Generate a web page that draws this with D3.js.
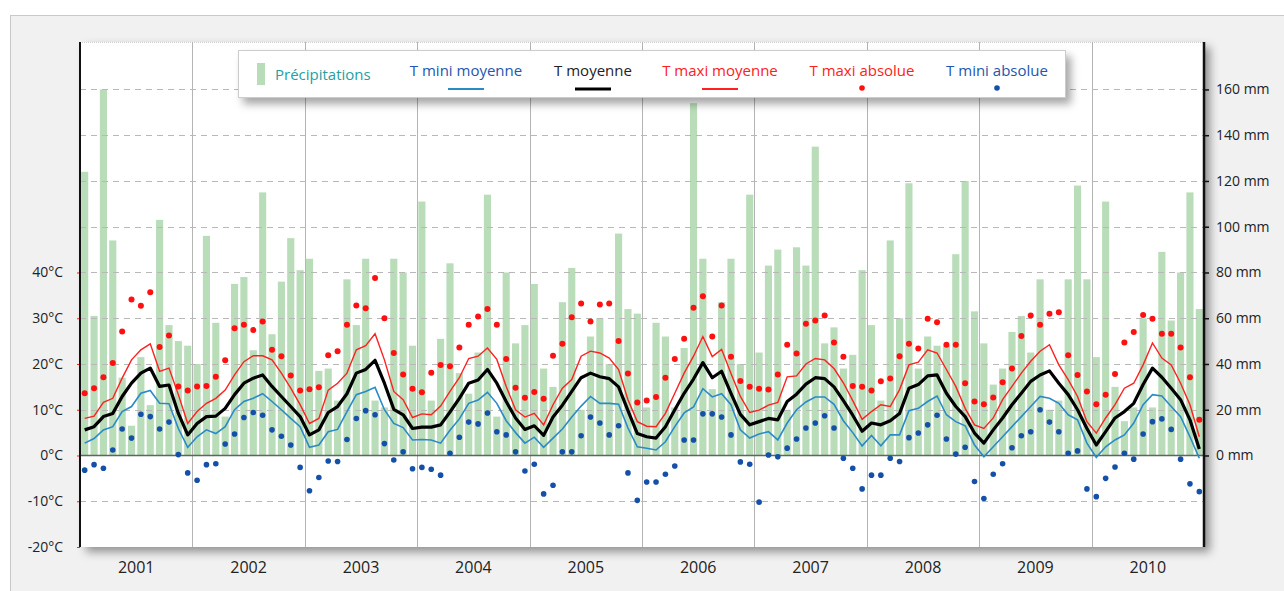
<!DOCTYPE html>
<html><head><meta charset="utf-8">
<script src="https://cdn.jsdelivr.net/npm/d3@7"></script>
<style>body{margin:0;background:#fff;} svg{display:block}</style>
</head><body><svg id="c" width="1284" height="591"></svg>
<script>
const years = ["2001","2002","2003","2004","2005","2006","2007","2008","2009","2010"];
const tempTicks = [-20,-10,0,10,20,30,40];
const precipTicks = [0,20,40,60,80,100,120,140,160];
const gridTemps = [-10,10,20,30,40,50,60,70,80];

const precipitation = [124,61,160,94,34,13,43,22,103,57,50,48,
 40,96,58,17,75,78,46,115,53,76,95,81,
 86,37,38,24,77,57,86,24,21,86,80,48,
 111,24,51,84,36,27,45,114,17,80,49,57,
 75,38,30,67,82,20,52,60,40,97,64,62,
 21,58,52,21,47,154,86,29,67,86,40,114,
 45,83,90,20,91,83,135,49,56,38,44,81,
 57,24,94,60,119,38,52,48,48,88,120,63,
 49,31,38,54,61,45,77,20,24,77,118,77,
 43,111,30,15,21,60,21,89,59,80,115,64];

const tMinMoy = [2.7,3.7,5.6,6.3,9.6,10.7,13.6,14.2,11.4,11.3,5.9,1.8,
 4.1,5.6,4.8,6.3,10.0,11.8,12.5,13.5,11.8,10.0,8.1,6.3,
 1.8,2.3,5.2,5.7,9.6,13.3,14.0,14.9,10.0,7.0,6.1,3.4,
 3.5,3.4,2.7,5.5,8.0,11.4,12.1,13.8,11.4,7.6,5.0,2.7,
 4.0,1.8,3.8,5.8,8.4,10.8,12.9,11.4,11.4,11.2,6.0,1.9,
 1.6,1.2,3.0,6.3,9.3,10.6,14.6,12.8,13.5,11.1,5.6,3.8,
 4.7,5.2,3.4,7.1,10.0,11.7,12.8,12.8,11.2,7.6,5.0,2.1,
 4.4,2.1,4.5,4.5,9.8,10.3,11.8,13.0,8.9,7.4,6.5,2.3,
 -0.3,1.9,4.1,6.3,8.5,10.7,12.9,12.5,11.4,8.9,7.8,2.7,
 -0.4,1.9,3.4,4.5,7.1,11.1,13.3,13.0,10.7,8.5,4.1,-0.6];

const tMoy = [5.6,6.3,8.5,9.2,12.9,15.8,18.0,19.1,15.1,15.4,9.2,4.5,
 7.0,8.5,8.6,10.3,13.3,15.8,16.9,17.6,15.1,12.9,10.7,8.5,
 4.5,5.6,9.4,10.7,13.5,18.0,18.8,20.8,15.8,10.1,8.9,5.9,
 6.2,6.2,6.7,9.5,12.5,15.8,16.5,18.8,15.8,11.8,8.2,5.7,
 6.5,4.4,8.4,11.0,14.0,17.0,18.0,17.2,16.8,15.0,9.8,4.8,
 4.1,3.8,6.3,10.0,13.6,16.7,20.3,17.0,18.4,13.6,9.0,6.7,
 7.4,8.1,7.8,11.8,13.4,15.6,17.0,16.8,15.0,12.0,8.8,5.3,
 7.1,6.7,7.6,9.2,14.7,15.5,17.4,17.6,13.6,10.7,8.5,4.9,
 2.7,5.6,8.2,11.1,13.6,16.2,17.6,18.5,15.8,13.3,10.0,5.9,
 2.3,5.2,8.2,9.6,11.4,15.5,19.1,17.1,14.7,12.2,7.8,1.4];

const tMaxMoy = [8.1,8.6,11.6,12.5,16.9,20.9,23.1,24.4,18.4,19.1,13.3,7.0,
 9.6,11.4,12.5,14.3,17.6,20.5,21.8,21.8,20.9,18.0,14.7,11.1,
 7.0,8.1,14.3,15.8,18.0,23.1,24.0,26.6,20.9,14.0,12.2,8.3,
 9.1,8.9,10.8,14.0,17.0,21.2,21.7,23.5,21.0,15.1,10.0,8.4,
 9.2,6.7,11.1,14.7,16.6,21.7,22.8,22.4,21.3,18.8,12.2,7.4,
 6.4,6.3,9.2,13.6,18.0,21.7,26.0,21.6,23.2,17.9,12.9,9.4,
 9.9,11.0,11.6,17.2,17.4,20.0,21.2,20.9,19.0,15.9,12.0,7.9,
 9.6,11.1,10.7,14.4,19.8,20.4,23.1,22.4,18.8,15.1,10.3,6.7,
 5.9,8.2,12.2,15.1,18.0,20.6,22.8,24.2,19.8,16.6,12.9,7.4,
 4.9,8.2,11.1,14.7,15.8,19.8,24.6,21.3,19.8,15.8,11.1,4.1];

const tMaxAbs = [13.6,14.7,17.1,20.2,27.1,34.1,32.7,35.7,23.7,26.2,15.1,14.2,
 15.1,15.2,17.2,20.8,27.8,28.6,27.4,29.3,23.1,21.7,17.5,14.2,
 14.5,14.9,21.9,22.8,28.6,32.8,32.2,38.8,30.0,22.4,17.7,14.6,
 13.8,18.1,19.8,19.5,23.6,28.6,30.4,32.0,28.6,21.1,14.8,12.6,
 13.9,12.4,21.8,24.4,30.2,33.2,29.3,33.0,33.2,25.0,17.9,11.6,
 12.0,12.8,17.0,21.1,25.5,32.3,34.8,26.0,32.8,21.6,16.3,15.0,
 14.6,14.4,17.7,24.2,22.3,28.8,29.5,30.6,24.7,21.6,15.2,15.0,
 14.2,16.2,16.8,21.7,24.4,23.4,29.9,29.1,24.2,24.2,15.8,11.8,
 11.2,12.7,16.0,19.0,26.1,30.6,28.6,31.0,31.3,21.9,17.6,14.0,
 11.2,13.3,17.8,24.7,27.0,30.7,29.9,26.6,26.6,23.6,17.1,7.8];

const tMinAbs = [-3.2,-2.0,-2.8,1.2,5.8,3.8,9.0,8.5,5.8,7.3,0.2,-3.8,
 -5.4,-2.0,-1.8,2.5,4.7,8.3,9.4,8.8,5.6,4.2,2.3,-2.6,
 -7.7,-4.8,-1.2,-1.3,3.5,8.1,9.8,8.9,2.6,-1.0,0.8,-2.9,
 -2.6,-3.0,-4.3,0.5,4.0,7.3,6.9,9.3,5.2,4.5,0.8,-3.4,
 -1.9,-8.4,-6.5,0.8,0.8,4.3,8.4,7.1,4.5,6.5,-3.8,-9.8,
 -5.8,-5.8,-4.1,-2.3,3.4,3.4,9.1,9.1,8.4,4.5,-1.4,-1.9,
 -10.2,0.1,-0.3,1.6,3.6,6.0,7.1,8.7,6.0,-0.6,-2.8,-7.3,
 -4.3,-4.3,-0.6,-1.3,3.9,4.9,6.7,8.8,3.6,0.3,1.8,-5.7,
 -9.4,-4.1,-1.8,1.7,4.3,5.2,10.0,7.3,5.2,0.5,1.0,-7.3,
 -9.0,-5.0,-2.5,0.5,-0.8,4.7,7.4,8.0,5.7,-0.8,-6.2,-7.9];

const FONT = "'Open Sans', 'DejaVu Sans', sans-serif";
const svg = d3.select("#c");
const defs = svg.append("defs");
const sh = defs.append("filter").attr("id","sh").attr("x","-5%").attr("y","-10%").attr("width","115%").attr("height","130%");
sh.append("feDropShadow").attr("dx",6).attr("dy",5).attr("stdDeviation",5).attr("flood-color","#000").attr("flood-opacity",0.4);
const sh2 = defs.append("filter").attr("id","sh2").attr("x","-5%").attr("y","-30%").attr("width","115%").attr("height","190%");
sh2.append("feDropShadow").attr("dx",5).attr("dy",6).attr("stdDeviation",4).attr("flood-color","#000").attr("flood-opacity",0.35);

// outer panel
svg.append("rect").attr("x",10.5).attr("y",15.5).attr("width",1300).attr("height",600)
  .attr("fill","#f1f1f1").attr("stroke","#c9c9c9");

const L = 80, R = 1204, T = 42, B = 547;
const monthKeys = years.flatMap(y => d3.range(1,13).map(m => y + "-" + m));
const x = d3.scaleBand().domain(monthKeys).range([L, R]).paddingInner(0.24).paddingOuter(0.12);
const xc = k => x(k) + x.bandwidth()/2;
const xYear = d3.scaleBand().domain(years).range([L, R]);
const yT = d3.scaleLinear().domain([-20, 90]).range([B, 43.7]);
const yP = d3.scaleLinear().domain([-40, 180]).range([B, 43.7]);

// plot background with shadow
svg.append("rect").attr("x",L).attr("y",T).attr("width",R-L).attr("height",B-T)
  .attr("fill","#fff").attr("filter","url(#sh)");

// top dotted border
svg.append("line").attr("x1",L).attr("x2",R).attr("y1",T+0.5).attr("y2",T+0.5)
  .attr("stroke","#cfcfcf").attr("stroke-dasharray","1,1");

// year separators
const sep = svg.append("g");
years.slice(1).forEach((y,i) => {
  const xx = Math.round(xYear(y)) + 0.5;
  sep.append("line").attr("x1",xx).attr("x2",xx).attr("y1",T).attr("y2",B)
    .attr("stroke","#b4b4b4").attr("stroke-width",1);
});

// bars
svg.append("g").selectAll("rect").data(precipitation).join("rect")
  .attr("x",(d,i)=>x(monthKeys[i])).attr("width",x.bandwidth())
  .attr("y",d=>yP(d)).attr("height",d=>yP(0)-yP(d))
  .attr("fill","#b9dcb9");

// grid lines
svg.append("g").selectAll("line").data(gridTemps).join("line")
  .attr("x1",L).attr("x2",R).attr("y1",d=>Math.round(yT(d))+0.5).attr("y2",d=>Math.round(yT(d))+0.5)
  .attr("stroke","#b8b8b8").attr("stroke-dasharray","6,5");

// zero line
svg.append("line").attr("x1",L).attr("x2",R).attr("y1",yT(0)).attr("y2",yT(0))
  .attr("stroke","#5a6a5a").attr("stroke-width",1.6);

// lines
const line = d3.line().x((d,i)=>xc(monthKeys[i])).y(d=>yT(d));
svg.append("path").datum(tMinMoy).attr("d",line).attr("fill","none").attr("stroke","#2a8ac8").attr("stroke-width",1.6);
svg.append("path").datum(tMaxMoy).attr("d",line).attr("fill","none").attr("stroke","#ff2020").attr("stroke-width",1.4);
svg.append("path").datum(tMoy).attr("d",line).attr("fill","none").attr("stroke","#000").attr("stroke-width",3.2).attr("stroke-linejoin","round");

// dots
svg.append("g").selectAll("circle").data(tMaxAbs).join("circle")
  .attr("cx",(d,i)=>xc(monthKeys[i])).attr("cy",d=>yT(d)).attr("r",3).attr("fill","#ff1010");
svg.append("g").selectAll("circle").data(tMinAbs).join("circle")
  .attr("cx",(d,i)=>xc(monthKeys[i])).attr("cy",d=>yT(d)).attr("r",2.8).attr("fill","#1450a8");

// axes
const ax = svg.append("g").attr("transform",`translate(${L},0)`)
  .call(d3.axisLeft(yT).tickValues(tempTicks).tickSize(3).tickPadding(14).tickFormat(d=>d+"°C"));
ax.select(".domain").remove();
ax.selectAll(".tick line").attr("stroke","#ff2020");
ax.selectAll("text").attr("font-family",FONT).attr("font-size",14).attr("fill","#222");
svg.append("line").attr("x1",L).attr("x2",L).attr("y1",T).attr("y2",B).attr("stroke","#111").attr("stroke-width",2);

const ar = svg.append("g").attr("transform",`translate(${R},0)`)
  .call(d3.axisRight(yP).tickValues(precipTicks).tickSize(5).tickPadding(7).tickFormat(d=>d+" mm"));
ar.select(".domain").remove();
ar.selectAll(".tick line").attr("stroke","#111").attr("stroke-width",1.5);
ar.selectAll("text").attr("font-family",FONT).attr("font-size",14).attr("fill","#222");
svg.append("line").attr("x1",R).attr("x2",R).attr("y1",T).attr("y2",B).attr("stroke","#111").attr("stroke-width",2.5);

const ab = svg.append("g").attr("transform",`translate(0,${B})`)
  .call(d3.axisBottom(xYear).tickSize(0).tickPadding(15));
ab.select(".domain").remove();
ab.selectAll("text").attr("font-family",FONT).attr("font-size",16).attr("fill","#222");

// legend
const lg = svg.append("g");
lg.append("rect").attr("x",238.5).attr("y",50.5).attr("width",827).attr("height",47)
  .attr("fill","#fff").attr("stroke","#cccccc").attr("filter","url(#sh2)");
lg.append("rect").attr("x",257).attr("y",63).attr("width",8).attr("height",22).attr("fill","#b9dcb9");
lg.append("text").attr("x",275).attr("y",80).text("Précipitations")
  .attr("font-family",FONT).attr("font-size",15).attr("fill","#22a0a4");
const items = [
  {label:"T mini moyenne", cx:466, color:"#2356ae", kind:"line", sc:"#2a8ac8", sw:2},
  {label:"T moyenne", cx:593, color:"#222", kind:"line", sc:"#000", sw:3.2},
  {label:"T maxi moyenne", cx:720, color:"#ff2020", kind:"line", sc:"#ff2020", sw:2},
  {label:"T maxi absolue", cx:862, color:"#ff2020", kind:"dot", sc:"#ff1010"},
  {label:"T mini absolue", cx:997, color:"#2356ae", kind:"dot", sc:"#1450a8"}
];
items.forEach(it => {
  lg.append("text").attr("x",it.cx).attr("y",76).attr("text-anchor","middle").text(it.label)
    .attr("font-family",FONT).attr("font-size",15).attr("fill",it.color);
  if (it.kind === "line") {
    lg.append("line").attr("x1",it.cx-18).attr("x2",it.cx+18).attr("y1",89).attr("y2",89)
      .attr("stroke",it.sc).attr("stroke-width",it.sw);
  } else {
    lg.append("circle").attr("cx",it.cx).attr("cy",88).attr("r",2.8).attr("fill",it.sc);
  }
});
</script></body></html>
